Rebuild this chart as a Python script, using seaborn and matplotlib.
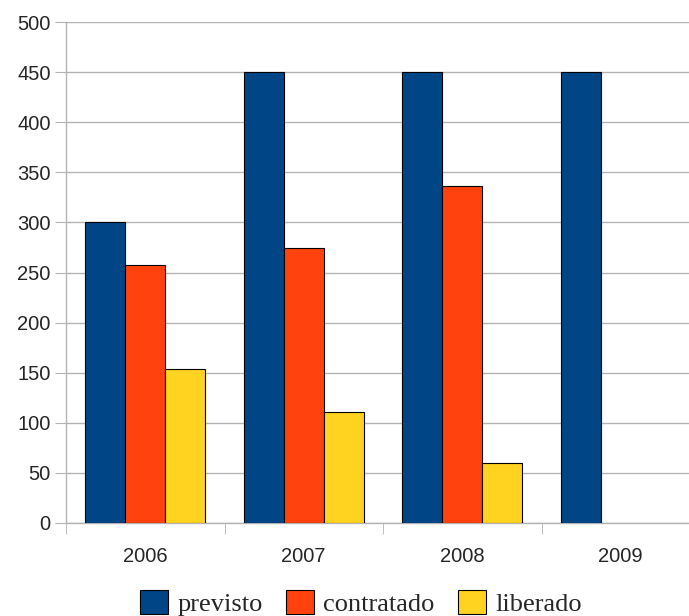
import numpy as np
import pandas as pd
import matplotlib
matplotlib.use("Agg")
import matplotlib.pyplot as plt
import seaborn as sns

# values
anos = ["2006", "2007", "2008", "2009"]
previsto = [300, 450, 450, 450]
contratado = [257, 274, 336, np.nan]
liberado = [154, 111, 60, np.nan]

series = ["previsto", "contratado", "liberado"]
cores = ["#004586", "#ff420e", "#ffd320"]

df = pd.DataFrame({
    "ano": anos * 3,
    "serie": ["previsto"] * 4 + ["contratado"] * 4 + ["liberado"] * 4,
    "valor": previsto + contratado + liberado,
})

sns.set_style("white")
plt.rcParams['font.family'] = ['Liberation Sans', 'DejaVu Sans']

fig = plt.figure(figsize=(6.89, 6.16), dpi=100)
# axes run a little past the right edge, as in the original
ax = fig.add_axes([66 / 689, 93 / 616, 634 / 689, 501 / 616])

sns.barplot(data=df, x="ano", y="valor", hue="serie", hue_order=series,
            palette=cores, width=0.76, edgecolor="black", linewidth=0.8,
            saturation=1, ax=ax, zorder=3)

ax.set_ylim(0, 500)
ax.set_xlim(-0.5, 3.5)
ax.set_yticks(np.arange(0, 501, 50))
ax.set_xlabel("")
ax.set_ylabel("")

ax.yaxis.grid(True, color="#b3b3b3", linewidth=1, zorder=0)
ax.set_axisbelow(True)
for s in ["top", "right"]:
    ax.spines[s].set_visible(False)
for s in ["left", "bottom"]:
    ax.spines[s].set_color("#b3b3b3")
    ax.spines[s].set_linewidth(1)

ax.tick_params(axis="y", which="major", length=8, color="#b3b3b3",
               labelsize=14.5, pad=3, left=True)
ax.set_xticks([-0.5, 0.5, 1.5, 2.5, 3.5], minor=True)
ax.tick_params(axis="x", which="minor", length=8, color="#b3b3b3", bottom=True)
ax.tick_params(axis="x", which="major", length=0, labelsize=14.5, pad=17)

leg = ax.legend(loc="lower center", bbox_to_anchor=((361 - 66) / 634, -0.207),
                ncol=3, frameon=False, prop={"family": "Liberation Serif", "size": 19},
                handlelength=1.05, handleheight=1.05, handletextpad=0.35, columnspacing=0.9,
                borderaxespad=0)

fig.savefig("out.png", dpi=100)
